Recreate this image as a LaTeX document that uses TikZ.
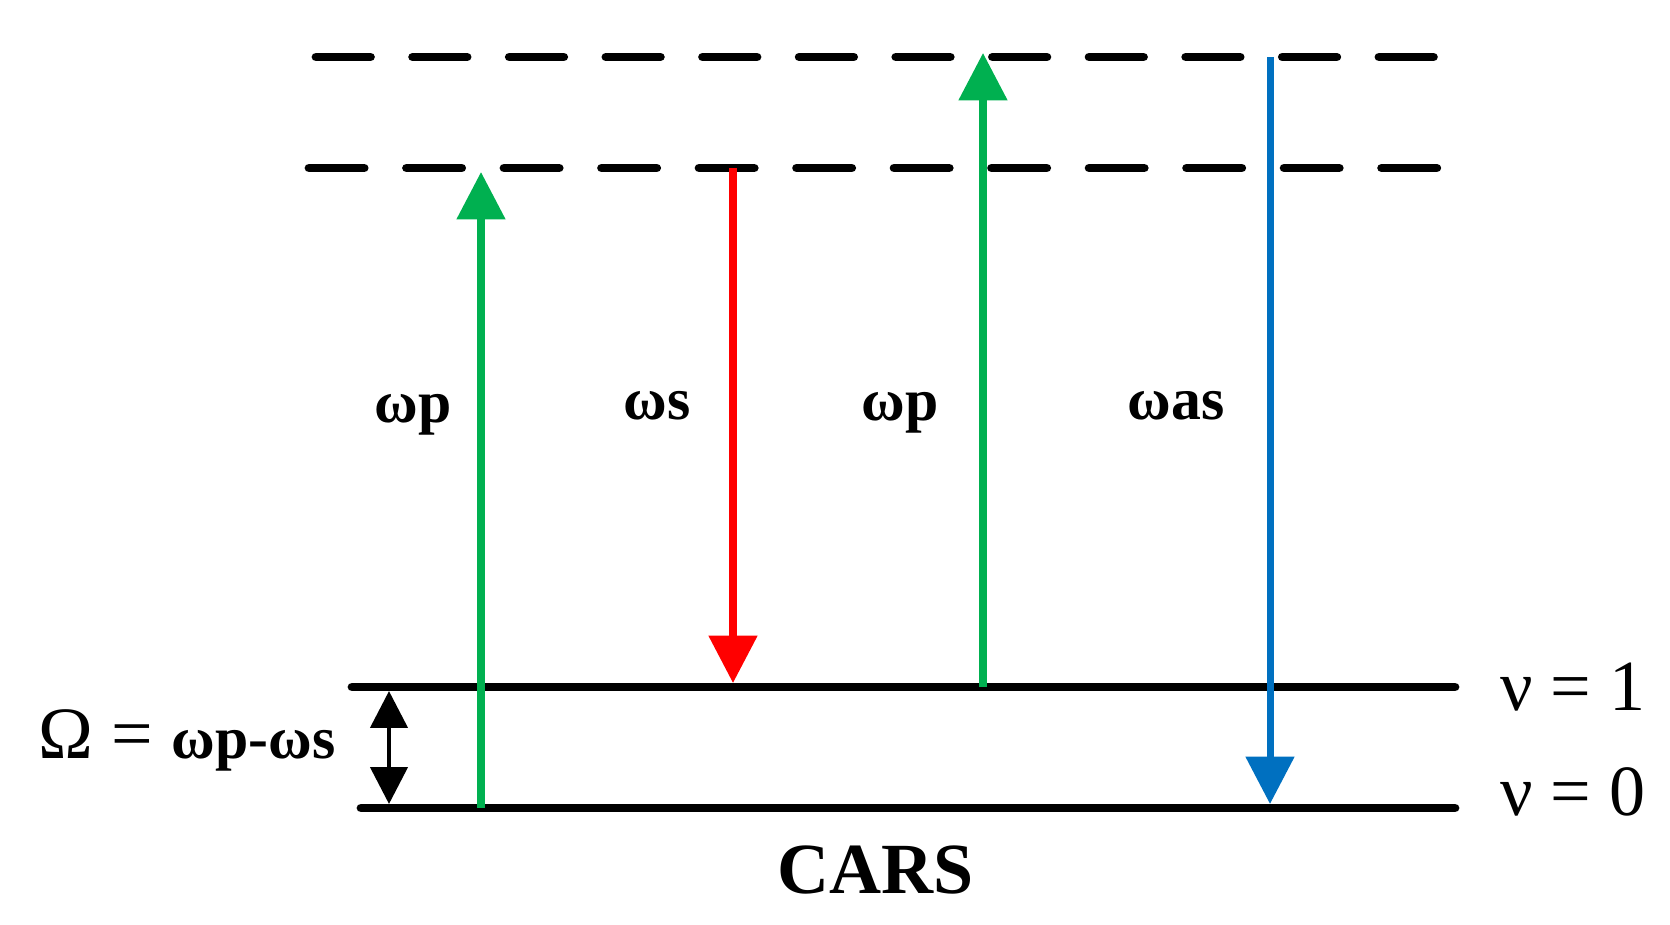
\documentclass[tikz,border=0pt]{standalone}
\usepackage{fontspec}
\setmainfont{Liberation Serif}
\usetikzlibrary{arrows.meta}
\definecolor{pumpgreen}{RGB}{0,176,80}
\definecolor{stokesred}{RGB}{255,0,0}
\definecolor{antiblue}{RGB}{0,112,192}
\begin{document}
\begin{tikzpicture}[
    x=0.02cm, y=-0.02cm, % one unit per pixel, y downwards
    statebar/.style = {draw=black, line width=5pt, line cap=round},
    virtbar/.style = {statebar, dash pattern=on 31pt off 24pt},
    beam/.style = {line width=4pt, -{Triangle[length=27pt, width=27pt]}},
    gap/.style = {line width=2.6pt, {Triangle[length=21pt, width=21pt]}-{Triangle[length=21pt, width=21pt]}}
    ]
    \tikzstyle{freq} = [font=\fontsize{34}{40}\selectfont\bfseries, anchor=base, inner sep=0pt]
    \tikzstyle{statelbl} = [font=\fontsize{41}{48}\selectfont, anchor=base west, inner sep=0pt]
    \useasboundingbox (0,0) rectangle (1670,924);

    % energy levels
    \coordinate (vtopL) at (316,57);  \coordinate (vtopR) at (1444,57);
    \coordinate (vmidL) at (309,168); \coordinate (vmidR) at (1446,168);
    \coordinate (v1L) at (352,687);   \coordinate (v1R) at (1455,687);
    \coordinate (v0L) at (361,808);   \coordinate (v0R) at (1455,808);
    \draw[virtbar] (vtopL) -- (vtopR);
    \draw[virtbar, dash pattern=on 31.4pt off 24.1pt] (vmidL) -- (vmidR);
    \draw[statebar] (v1L) -- (v1R);
    \draw[statebar] (v0L) -- (v0R);

    % transitions
    \coordinate (p1a) at (481,808); \coordinate (p1b) at (481,172);
    \coordinate (sa) at (733,168);  \coordinate (sb) at (733,683);
    \coordinate (p2a) at (983,687); \coordinate (p2b) at (983,53);
    \coordinate (asa) at (1270,57); \coordinate (asb) at (1270,804);
    \coordinate (ga) at (389,691);  \coordinate (gb) at (389,804);
    \draw[beam, pumpgreen] (p1a) -- (p1b);
    \draw[beam, stokesred] (sa) -- (sb);
    \draw[beam, pumpgreen] (p2a) -- (p2b);
    \draw[beam, antiblue] (asa) -- (asb);
    \draw[gap] (ga) -- (gb);

    \node[freq] (wp1) at (413,422) {ωp};
    \node[freq] (ws) at (657,419) {ωs};
    \node[freq] (wp2) at (900,420) {ωp};
    \node[freq] (was) at (1176,419) {ωas};
    \node[inner sep=0pt, anchor=base west] (omega) at (38,758)
        {\fontsize{42}{48}\selectfont Ω = {\fontsize{34}{40}\selectfont\bfseries ωp-ωs}};
    \node[statelbl] (nu1) at (1500,710) {ν = 1};
    \node[statelbl] (nu0) at (1500,815) {ν = 0};
    \node[font=\fontsize{41}{48}\selectfont\bfseries, anchor=base, inner sep=0pt] (cars) at (876,893) {CARS};
\end{tikzpicture}
\end{document}
